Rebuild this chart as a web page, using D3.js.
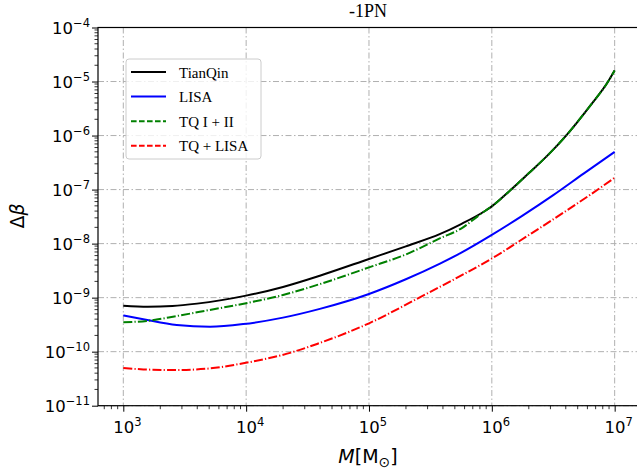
<!DOCTYPE html>
<html><head><meta charset="utf-8">
<script src="https://cdn.jsdelivr.net/npm/d3@7"></script>
<style>body{margin:0;background:#fff}svg{display:block}</style>
</head><body>
<svg id="c" width="637" height="474"></svg>
<script>
// ---- data (log10 of total mass M, and Δβ) ----
const massLogTianQin = [3.0, 3.2, 3.4, 3.6, 3.8, 4.0, 4.3, 4.6, 5.0, 5.3, 5.58, 5.75, 5.944, 6.0, 6.157, 6.3, 6.45, 6.605, 6.8, 6.947, 7.0];
const dbTianQin      = [7.1e-10, 6.8e-10, 7.0e-10, 7.75e-10, 9.0e-10, 1.09e-9, 1.58e-9, 2.55e-9, 5.2e-9, 8.9e-9, 1.51e-8, 2.3e-8, 4.02e-8, 4.9e-8, 1.0e-7, 2.0e-7, 4.2e-7, 1.0e-6, 3.55e-6, 1.0e-5, 1.6e-5];

const massLogLISA = [3.0, 3.163, 3.435, 3.706, 3.977, 4.3, 4.6, 5.0, 5.3, 5.578, 5.741, 6.0, 6.25, 6.5, 6.75, 7.0];
const dbLISA      = [4.7e-10, 4.0e-10, 3.12e-10, 2.9e-10, 3.24e-10, 4.27e-10, 6.2e-10, 1.17e-9, 2.19e-9, 4.27e-9, 6.6e-9, 1.45e-8, 3.3e-8, 7.9e-8, 2.0e-7, 5.0e-7];

const massLogTQ12 = [3.0, 3.2, 3.435, 3.7, 4.0, 4.3, 4.6, 5.0, 5.3, 5.58, 5.75, 5.9, 5.944, 6.0, 6.157, 6.3, 6.45, 6.605, 6.8, 6.947, 7.0];
const dbTQ12      = [3.5e-10, 3.72e-10, 4.57e-10, 5.9e-10, 7.9e-10, 1.12e-9, 1.78e-9, 3.63e-9, 6.3e-9, 1.26e-8, 1.9e-8, 3.4e-8, 4.02e-8, 4.9e-8, 1.0e-7, 2.0e-7, 4.2e-7, 1.0e-6, 3.55e-6, 1.0e-5, 1.6e-5];

const massLogTQLISA = [3.0, 3.163, 3.435, 3.706, 3.977, 4.357, 4.577, 5.0, 5.391, 5.741, 6.0, 6.313, 6.555, 6.8, 7.0];
const dbTQLISA      = [5.0e-11, 4.7e-11, 4.57e-11, 4.9e-11, 6.1e-11, 9.5e-11, 1.39e-10, 3.35e-10, 9.5e-10, 2.5e-9, 5.3e-9, 1.5e-8, 3.4e-8, 8.0e-8, 1.66e-7];

const seriesNames = ["TianQin", "LISA", "TQ I + II", "TQ + LISA"];
const xTickExps = [3, 4, 5, 6, 7];
const yTickExps = [-11, -10, -9, -8, -7, -6, -5, -4];
const titleText = "-1PN";

// ---- layout ----
const svg = d3.select("#c");
const L = 98, R = 638, T = 27.5, B = 405.7;
const x = d3.scaleLog().domain([Math.pow(10, 2.794), Math.pow(10, 7.19)]).range([L, R]);
const y = d3.scaleLog().domain([1e-11, 1e-4]).range([B, T]);

const series = [
  {name: seriesNames[0], m: massLogTianQin, v: dbTianQin, color: "#000000", dash: null, ldash: null},
  {name: seriesNames[1], m: massLogLISA, v: dbLISA, color: "#0000ff", dash: null, ldash: null},
  {name: seriesNames[2], m: massLogTQ12, v: dbTQ12, color: "#008000", dash: "9,2.2,1.2,2.2", ldash: "5.6,2.4"},
  {name: seriesNames[3], m: massLogTQLISA, v: dbTQLISA, color: "#ff0000", dash: "9,2.2,1.2,2.2", ldash: "5.6,2.4"}
];

// grid
const grid = svg.append("g").attr("stroke", "#b0b0b0").attr("stroke-width", 1).attr("stroke-dasharray", "6,2.5,1.5,2.5");
xTickExps.forEach(e => grid.append("line").attr("x1", x(Math.pow(10, e))).attr("x2", x(Math.pow(10, e))).attr("y1", T).attr("y2", B));
yTickExps.forEach(e => grid.append("line").attr("x1", L).attr("x2", R).attr("y1", y(Math.pow(10, e))).attr("y2", y(Math.pow(10, e))));

// curves
svg.append("clipPath").attr("id", "clip").append("rect").attr("x", L).attr("y", T).attr("width", R - L).attr("height", B - T);
const line = d3.line().x(d => x(Math.pow(10, d[0]))).y(d => y(d[1])).curve(d3.curveMonotoneX);
series.forEach(s => {
  const pts = s.m.map((m, i) => [m, s.v[i]]);
  svg.append("path").attr("d", line(pts)).attr("fill", "none").attr("stroke", s.color)
    .attr("stroke-width", 2).attr("stroke-dasharray", s.dash).attr("clip-path", "url(#clip)");
});

// axes
const sup = n => String(n).replace(/-/g, "\u2212");
const xAxis = d3.axisBottom(x).tickValues(xTickExps.map(e => Math.pow(10, e))).tickSize(6).tickFormat("");
const yAxis = d3.axisLeft(y).tickValues(yTickExps.map(e => Math.pow(10, e))).tickSize(6).tickFormat("");
const gx = svg.append("g").attr("transform", `translate(0,${B})`).call(xAxis);
const gy = svg.append("g").attr("transform", `translate(${L},0)`).call(yAxis);
[gx, gy].forEach(g => { g.select(".domain").remove(); g.selectAll("line").attr("stroke", "#000").attr("stroke-width", 1); });

// minor ticks
const xMinor = [], yMinor = [];
for (let e = 2; e <= 7; e++) for (let k = 2; k <= 9; k++) { const v = k * Math.pow(10, e); if (x(v) > L && x(v) < R) xMinor.push(v); }
for (let e = -11; e < -4; e++) for (let k = 2; k <= 9; k++) yMinor.push(k * Math.pow(10, e));
const mg = svg.append("g").attr("stroke", "#000").attr("stroke-width", 0.8);
xMinor.forEach(v => mg.append("line").attr("x1", x(v)).attr("x2", x(v)).attr("y1", B).attr("y2", B + 3.5));
yMinor.forEach(v => mg.append("line").attr("x1", L).attr("x2", L - 3.5).attr("y1", y(v)).attr("y2", y(v)));

// tick labels
const tf = "'DejaVu Sans', sans-serif";
xTickExps.forEach(e => {
  const t = svg.append("text").attr("x", x(Math.pow(10, e)) + 4).attr("y", 433).attr("text-anchor", "middle")
    .attr("font-family", tf).attr("font-size", 16.5).attr("fill", "#000");
  t.append("tspan").text("10");
  t.append("tspan").attr("font-size", 11.5).attr("dy", -7).text(sup(e));
});
yTickExps.forEach(e => {
  const t = svg.append("text").attr("x", L - 8).attr("y", y(Math.pow(10, e)) + 6).attr("text-anchor", "end")
    .attr("font-family", tf).attr("font-size", 16.5).attr("fill", "#000");
  t.append("tspan").text("10");
  t.append("tspan").attr("font-size", 11.5).attr("dy", -7).text(sup(e));
});

// frame
svg.append("rect").attr("x", L).attr("y", T).attr("width", R - L).attr("height", B - T)
  .attr("fill", "none").attr("stroke", "#000").attr("stroke-width", 1.2);

// title
svg.append("text").attr("x", (L + R) / 2).attr("y", 17).attr("text-anchor", "middle")
  .attr("font-family", "'Liberation Serif', 'Times New Roman', serif").attr("font-size", 18).text(titleText);

// axis labels
const xl = svg.append("text").attr("x", 368).attr("y", 463).attr("text-anchor", "middle")
  .attr("font-family", tf).attr("font-size", 19);
xl.append("tspan").attr("font-style", "italic").text("M");
xl.append("tspan").text("[M");
xl.append("tspan").attr("font-size", 14).attr("dy", 4).text("\u2299");
xl.append("tspan").attr("dy", -4).text("]");

const yl = svg.append("text").attr("transform", "translate(24,216) rotate(-90)").attr("text-anchor", "middle")
  .attr("font-family", tf).attr("font-size", 19);
yl.append("tspan").text("\u0394");
yl.append("tspan").attr("font-style", "italic").text("\u03b2");

// legend
const lg = svg.append("g");
lg.append("rect").attr("x", 126).attr("y", 59).attr("width", 135).attr("height", 100).attr("rx", 3)
  .attr("fill", "#fff").attr("fill-opacity", 0.8).attr("stroke", "#cccccc").attr("stroke-width", 1);
series.forEach((s, i) => {
  const yy = 72 + i * 24.6;
  lg.append("line").attr("x1", 131).attr("x2", 166).attr("y1", yy).attr("y2", yy)
    .attr("stroke", s.color).attr("stroke-width", 2).attr("stroke-dasharray", s.ldash);
  lg.append("text").attr("x", 179).attr("y", yy + 5.5).attr("font-family", "'Liberation Serif', 'Times New Roman', serif")
    .attr("font-size", 15).text(s.name);
});
</script>
</body></html>
